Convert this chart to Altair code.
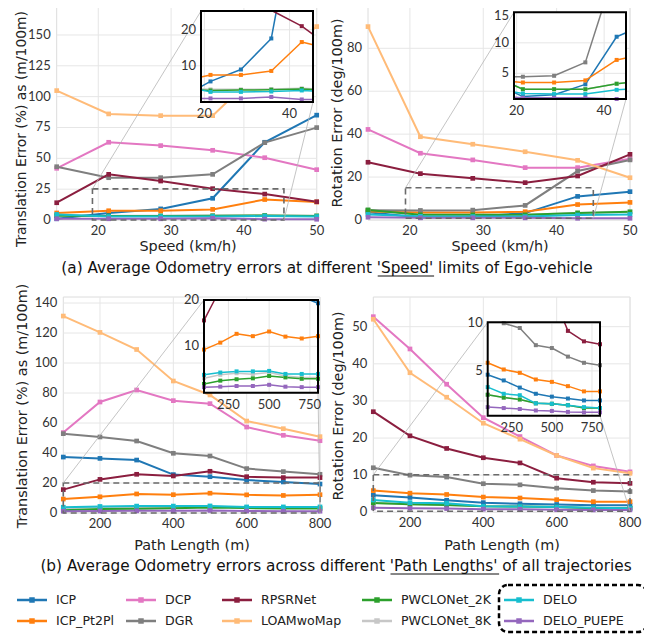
import altair as alt
import pandas as pd

# ---------------- data ----------------
METHODS = ["ICP", "ICP_Pt2Pl", "DCP", "DGR", "RPSRNet", "LOAMwoMap",
           "PWCLONet_2K", "PWCLONet_8K", "DELO", "DELO_PUEPE"]
COLORS = ["#1f77b4", "#ff7f0e", "#e377c2", "#7f7f7f", "#8b1e3f", "#ffbb78",
          "#2ca02c", "#c7c7c7", "#17becf", "#9467bd"]
DRAW_ORDER = ["PWCLONet_8K", "ICP", "ICP_Pt2Pl", "DCP", "DGR", "RPSRNet", "LOAMwoMap",
              "PWCLONet_2K", "DELO", "DELO_PUEPE"]

SPEED = [14.29, 21.43, 28.57, 35.71, 42.86, 50.0]
PATH = [100, 200, 300, 400, 500, 600, 700, 800]

speed_trans = {
    "ICP":         [1.0, 5.7, 9.0, 17.6, 63.0, 85.0],
    "ICP_Pt2Pl":   [5.7, 7.5, 7.5, 8.6, 16.6, 14.6],
    "DCP":         [41.9, 63.0, 60.3, 56.5, 50.5, 40.8],
    "DGR":         [43.2, 34.3, 34.3, 37.0, 62.7, 74.9],
    "RPSRNet":     [14.0, 37.0, 31.6, 25.4, 21.0, 14.8],
    "LOAMwoMap":   [104.9, 86.0, 84.6, 84.6, 125.0, 156.8],
    "PWCLONet_2K": [3.5, 3.2, 3.3, 3.4, 3.6, 3.3],
    "PWCLONet_8K": [3.8, 3.5, 3.5, 3.6, 3.8, 3.5],
    "DELO":        [4.5, 2.8, 2.8, 2.9, 3.2, 2.8],
    "DELO_PUEPE":  [1.0, 1.0, 1.0, 1.4, 0.7, 0.6],
}
speed_rot = {
    "ICP":         [3.6, 1.2, 1.5, 3.2, 11.0, 13.2],
    "ICP_Pt2Pl":   [4.0, 3.5, 3.5, 3.85, 7.2, 8.2],
    "DCP":         [42.2, 31.1, 28.0, 24.4, 24.4, 28.5],
    "DGR":         [4.5, 4.45, 4.6, 6.8, 22.8, 28.0],
    "RPSRNet":     [26.9, 21.6, 19.4, 17.4, 20.5, 30.6],
    "LOAMwoMap":   [90.1, 38.8, 35.3, 31.8, 27.8, 19.7],
    "PWCLONet_2K": [4.7, 2.4, 2.4, 2.4, 3.3, 3.8],
    "PWCLONet_8K": [4.6, 2.4, 2.4, 2.4, 3.3, 3.8],
    "DELO":        [2.6, 1.7, 1.6, 1.6, 2.3, 2.6],
    "DELO_PUEPE":  [1.3, 1.0, 1.0, 1.0, 0.8, 0.8],
}
path_trans = {
    "ICP":         [37.3, 36.4, 35.3, 25.6, 24.2, 22.0, 20.7, 19.3],
    "ICP_Pt2Pl":   [9.3, 10.8, 12.7, 12.2, 13.2, 12.1, 11.7, 12.2],
    "DCP":         [53.6, 74.0, 82.0, 74.9, 72.9, 57.3, 51.8, 48.2],
    "DGR":         [52.9, 50.7, 48.0, 39.8, 38.0, 29.6, 27.6, 25.8],
    "RPSRNet":     [15.6, 22.4, 25.8, 24.7, 27.8, 24.2, 23.6, 23.6],
    "LOAMwoMap":   [131.3, 120.4, 109.0, 88.0, 78.7, 61.3, 56.2, 50.9],
    "PWCLONet_2K": [1.9, 2.6, 2.9, 3.1, 3.6, 3.3, 3.0, 3.0],
    "PWCLONet_8K": [3.1, 3.85, 4.2, 4.0, 4.35, 3.6, 3.3, 3.3],
    "DELO":        [3.85, 4.35, 4.6, 4.6, 4.7, 4.05, 4.05, 4.05],
    "DELO_PUEPE":  [1.2, 1.3, 1.45, 1.45, 1.7, 1.3, 1.2, 1.2],
}
path_rot = {
    "ICP":         [4.6, 4.0, 3.25, 2.6, 2.3, 2.1, 1.9, 1.9],
    "ICP_Pt2Pl":   [5.85, 5.15, 4.8, 4.1, 3.85, 3.4, 2.85, 2.85],
    "DCP":         [52.7, 44.0, 34.5, 25.5, 20.4, 15.3, 12.5, 10.9],
    "DGR":         [12.0, 10.0, 9.5, 7.7, 7.4, 6.5, 5.85, 5.6],
    "RPSRNet":     [27.1, 20.6, 17.2, 14.7, 13.3, 9.2, 8.1, 7.8],
    "LOAMwoMap":   [52.0, 37.6, 31.0, 24.0, 19.7, 15.3, 11.9, 10.5],
    "PWCLONet_2K": [2.5, 2.2, 2.0, 1.6, 1.55, 1.4, 1.1, 1.1],
    "PWCLONet_8K": [2.5, 2.2, 2.0, 1.6, 1.55, 1.4, 1.1, 1.1],
    "DELO":        [3.3, 2.6, 2.45, 1.6, 1.55, 1.4, 1.2, 1.1],
    "DELO_PUEPE":  [1.2, 1.1, 1.0, 0.85, 0.8, 0.7, 0.65, 0.65],
}

SPEED_TICKS = [20, 30, 40, 50]
PATH_TICKS = [200, 400, 600, 800]

CAP_A = ["(a) Average Odometry errors at different ", "'Speed'", " limits of Ego-vehicle"]
CAP_B = ["(b) Average Odometry errors across different ", "'Path Lengths'", " of all trajectories"]

# ---------------- layout / style ----------------
FONT = "Lato"
TFONT = "DejaVu Sans"
OFF = 8
GRID = "#e6e6e6"
FRAME = "#dcdcdc"
LAB = "#333333"
W_ALL, H_ALL = 636, 627

# DejaVu Sans advance widths (em/1000), used to place the caption underlines
DJV = {" ": 318, "(": 390, ")": 390, "'": 275, "-": 361, "a": 613, "b": 635, "c": 550,
       "d": 635, "e": 615, "f": 352, "g": 635, "h": 634, "i": 278, "j": 278, "k": 579,
       "l": 278, "m": 974, "n": 634, "o": 612, "p": 635, "r": 411, "s": 521, "t": 392,
       "u": 634, "v": 592, "y": 592, "A": 684, "E": 632, "L": 557, "O": 787, "P": 603,
       "S": 635}


def twidth(s, size):
    return sum(DJV.get(c, 600) for c in s) / 1000.0 * size


def P(v):
    return v - OFF


def sc(dom, a, b):
    return alt.Scale(domain=dom, range=[P(a), P(b)], nice=False, zero=False)


def one():
    return pd.DataFrame({"k": [0]})


def clip_seg(x0, y0, x1, y1, xmin, xmax, ymin, ymax):
    dx, dy = x1 - x0, y1 - y0
    u0, u1 = 0.0, 1.0
    for p, q in ((-dx, x0 - xmin), (dx, xmax - x0), (-dy, y0 - ymin), (dy, ymax - y0)):
        if p == 0:
            if q < 0:
                return None
        else:
            t = q / p
            if p < 0:
                u0 = max(u0, t)
            else:
                u1 = min(u1, t)
    if u0 > u1:
        return None
    return (x0 + u0 * dx, y0 + u0 * dy, x0 + u1 * dx, y0 + u1 * dy, u0, u1)


PANELS = [
    dict(data=speed_trans, xs=SPEED, xdom=[14.29, 50], ydom=[0, 174.3],
         rect=(56.7, 316.7, 5, 220), xticks=SPEED_TICKS, yticks=[0, 25, 50, 75, 100, 125, 150],
         ytitle="Translation Error (%) as (m/100m)", ytpos=(22, 129), ytsize=13.9,
         xtitle="Speed (km/h)", xtpos=(188, 247),
         ixdom=[19.2, 45.5], iydom=[0, 25.2], irect=(201, 313, 11, 102),
         ixticks=[20, 40], iyticks=[10, 20]),
    dict(data=speed_rot, xs=SPEED, xdom=[14.29, 50], ydom=[0, 99.7],
         rect=(368, 630, 6, 220), xticks=SPEED_TICKS, yticks=[0, 20, 40, 60, 80],
         ytitle="Rotation Error (deg/100m)", ytpos=(338, 113), ytsize=14.4,
         xtitle="Speed (km/h)", xtpos=(500, 247),
         ixdom=[19.4, 45.0], iydom=[0.8, 15], irect=(514, 626, 12.3, 99),
         ixticks=[20, 40], iyticks=[5, 10, 15]),
    dict(data=path_trans, xs=PATH, xdom=[100, 800], ydom=[0, 144],
         rect=(63.3, 320, 297, 513), xticks=PATH_TICKS, yticks=[0, 20, 40, 60, 80, 100, 120, 140],
         ytitle="Translation Error (%) as (m/100m)", ytpos=(23, 406), ytsize=14.4,
         xtitle="Path Length (m)", xtpos=(192, 546),
         ixdom=[100, 800], iydom=[0, 20], irect=(204, 318, 300, 392.7),
         ixticks=[250, 500, 750], iyticks=[10, 20]),
    dict(data=path_rot, xs=PATH, xdom=[100, 800], ydom=[0, 58],
         rect=(373.3, 630, 297, 512.3), xticks=PATH_TICKS, yticks=[0, 10, 20, 30, 40, 50],
         ytitle="Rotation Error (deg/100m)", ytpos=(339, 406), ytsize=14.4,
         xtitle="Path Length (m)", xtpos=(502, 546),
         ixdom=[100, 800], iydom=[0.3, 10.1], irect=(487.7, 600, 322.3, 415.7),
         ixticks=[250, 500, 750], iyticks=[5, 10]),
]

CSCALE = alt.Scale(domain=METHODS, range=COLORS)


def panel_layers(p):
    L = []
    x0, x1, y0, y1 = p["rect"]
    xs = sc(p["xdom"], x0, x1)
    ys = sc(p["ydom"], y1, y0)
    L.append(alt.Chart(one()).mark_rect(fill="white", stroke=FRAME, strokeWidth=1).encode(
        x=alt.value(P(x0)), x2=alt.value(P(x1)), y=alt.value(P(y0)), y2=alt.value(P(y1))))
    L.append(alt.Chart(pd.DataFrame({"v": p["xticks"]})).mark_rule(color=GRID, strokeWidth=1).encode(
        x=alt.X("v:Q", scale=xs, axis=None), y=alt.value(P(y0)), y2=alt.value(P(y1))))
    L.append(alt.Chart(pd.DataFrame({"v": p["yticks"]})).mark_rule(color=GRID, strokeWidth=1).encode(
        y=alt.Y("v:Q", scale=ys, axis=None), x=alt.value(P(x0)), x2=alt.value(P(x1))))
    L.append(alt.Chart(pd.DataFrame({"v": p["xticks"], "t": [str(t) for t in p["xticks"]]}))
             .mark_text(font=FONT, fontSize=13, color=LAB, baseline="middle", align="center").encode(
        x=alt.X("v:Q", scale=xs, axis=None), y=alt.value(P(y1 + 11)), text="t:N"))
    L.append(alt.Chart(pd.DataFrame({"v": p["yticks"], "t": [str(t) for t in p["yticks"]]}))
             .mark_text(font=FONT, fontSize=13, color=LAB, baseline="middle", align="right").encode(
        y=alt.Y("v:Q", scale=ys, axis=None), x=alt.value(P(x0 - 6)), text="t:N"))
    L.append(alt.Chart(pd.DataFrame({"t": [p["ytitle"]]})).mark_text(
        font=TFONT, fontSize=p["ytsize"], color="#222", angle=270, align="center",
        baseline="middle").encode(
        x=alt.value(P(p["ytpos"][0])), y=alt.value(P(p["ytpos"][1])), text="t:N"))
    L.append(alt.Chart(pd.DataFrame({"t": [p["xtitle"]]})).mark_text(
        font=TFONT, fontSize=14.4, color="#222", align="center", baseline="middle").encode(
        x=alt.value(P(p["xtpos"][0])), y=alt.value(P(p["xtpos"][1])), text="t:N"))

    rows = []
    for m in DRAW_ORDER:
        for xv, yv in zip(p["xs"], p["data"][m]):
            rows.append({"m": m, "x": xv, "y": yv})
    df = pd.DataFrame(rows)
    L.append(alt.Chart(df).mark_line(strokeWidth=2).encode(
        x=alt.X("x:Q", scale=xs, axis=None), y=alt.Y("y:Q", scale=ys, axis=None),
        color=alt.Color("m:N", scale=CSCALE, legend=None), detail="m:N"))
    L.append(alt.Chart(df).mark_square(size=22, opacity=1).encode(
        x=alt.X("x:Q", scale=xs, axis=None), y=alt.Y("y:Q", scale=ys, axis=None),
        color=alt.Color("m:N", scale=CSCALE, legend=None)))

    ixd, iyd = p["ixdom"], p["iydom"]
    L.append(alt.Chart(pd.DataFrame({"a": [ixd[0]], "b": [ixd[1]], "c": [iyd[0]], "d": [iyd[1]]}))
             .mark_rect(fillOpacity=0, stroke="#6a6a6a", strokeWidth=1.6, strokeDash=[6, 4]).encode(
        x=alt.X("a:Q", scale=xs, axis=None), x2="b:Q",
        y=alt.Y("c:Q", scale=ys, axis=None), y2="d:Q"))
    ix0, ix1, iy0, iy1 = p["irect"]
    L.append(alt.Chart(pd.DataFrame({"a": [ixd[0]], "c": [iyd[1]]})).mark_rule(
        color="#b5b5b5", strokeWidth=0.8).encode(
        x=alt.X("a:Q", scale=xs, axis=None), y=alt.Y("c:Q", scale=ys, axis=None),
        x2=alt.value(P(ix0)), y2=alt.value(P(iy0))))
    L.append(alt.Chart(pd.DataFrame({"a": [ixd[1]], "c": [iyd[0]]})).mark_rule(
        color="#b5b5b5", strokeWidth=0.8).encode(
        x=alt.X("a:Q", scale=xs, axis=None), y=alt.Y("c:Q", scale=ys, axis=None),
        x2=alt.value(P(ix1)), y2=alt.value(P(iy1))))

    ixs = sc(ixd, ix0, ix1)
    iys = sc(iyd, iy1, iy0)
    L.append(alt.Chart(one()).mark_rect(fill="white").encode(
        x=alt.value(P(ix0)), x2=alt.value(P(ix1)), y=alt.value(P(iy0)), y2=alt.value(P(iy1))))
    L.append(alt.Chart(pd.DataFrame({"v": p["ixticks"]})).mark_rule(color=GRID, strokeWidth=1).encode(
        x=alt.X("v:Q", scale=ixs, axis=None), y=alt.value(P(iy0)), y2=alt.value(P(iy1))))
    L.append(alt.Chart(pd.DataFrame({"v": p["iyticks"]})).mark_rule(color=GRID, strokeWidth=1).encode(
        y=alt.Y("v:Q", scale=iys, axis=None), x=alt.value(P(ix0)), x2=alt.value(P(ix1))))
    seg_rows, pt_rows = [], []
    sid = 0
    for m in DRAW_ORDER:
        xv, yv = p["xs"], p["data"][m]
        run_open = False
        for i in range(len(xv) - 1):
            c = clip_seg(xv[i], yv[i], xv[i + 1], yv[i + 1], ixd[0], ixd[1], iyd[0], iyd[1])
            if c is None:
                run_open = False
                continue
            if not (run_open and c[4] == 0.0):
                sid += 1
                seg_rows.append({"m": m, "s": sid, "x": c[0], "y": c[1]})
            seg_rows.append({"m": m, "s": sid, "x": c[2], "y": c[3]})
            run_open = c[5] == 1.0
        for a, b in zip(xv, yv):
            if ixd[0] <= a <= ixd[1] and iyd[0] <= b <= iyd[1]:
                pt_rows.append({"m": m, "x": a, "y": b})
    sdf = pd.DataFrame(seg_rows)
    sdf["o"] = range(len(sdf))
    L.append(alt.Chart(sdf).mark_line(strokeWidth=1.5, strokeCap="round", strokeJoin="round").encode(
        x=alt.X("x:Q", scale=ixs, axis=None), y=alt.Y("y:Q", scale=iys, axis=None),
        color=alt.Color("m:N", scale=CSCALE, legend=None), detail="s:N", order="o:Q"))
    L.append(alt.Chart(pd.DataFrame(pt_rows)).mark_square(size=16, opacity=1).encode(
        x=alt.X("x:Q", scale=ixs, axis=None), y=alt.Y("y:Q", scale=iys, axis=None),
        color=alt.Color("m:N", scale=CSCALE, legend=None)))
    L.append(alt.Chart(one()).mark_rect(fillOpacity=0, stroke="black", strokeWidth=2).encode(
        x=alt.value(P(ix0)), x2=alt.value(P(ix1)), y=alt.value(P(iy0)), y2=alt.value(P(iy1))))
    L.append(alt.Chart(pd.DataFrame({"v": p["ixticks"], "t": [str(t) for t in p["ixticks"]]}))
             .mark_text(font=FONT, fontSize=13, color=LAB, baseline="middle", align="center").encode(
        x=alt.X("v:Q", scale=ixs, axis=None), y=alt.value(P(iy1 + 12)), text="t:N"))
    # inset y labels; a label touching the page top is nudged down so it stays visible
    lo, hi = [], []
    for t in p["iyticks"]:
        py = iy1 - (t - iyd[0]) / (iyd[1] - iyd[0]) * (iy1 - iy0)
        (hi if py < 16 else lo).append(t)
    for grp, dy in ((lo, 0), (hi, 16 - iy0)):
        if not grp:
            continue
        L.append(alt.Chart(pd.DataFrame({"v": grp, "t": [str(t) for t in grp]}))
                 .mark_text(font=FONT, fontSize=13, color=LAB, baseline="middle", align="right",
                            dy=max(dy, 0)).encode(
            y=alt.Y("v:Q", scale=iys, axis=None), x=alt.value(P(ix0 - 5)), text="t:N"))
    return L


layers = []
for p in PANELS:
    layers += panel_layers(p)

# captions with underlined keyword
CAP_SIZE = 15.3
for parts, cx, cy in ((CAP_A, 327, 268), (CAP_B, 336, 566)):
    full = "".join(parts)
    layers.append(alt.Chart(pd.DataFrame({"t": [full]})).mark_text(
        font=TFONT, fontSize=CAP_SIZE, color="#111", align="center", baseline="middle").encode(
        x=alt.value(P(cx)), y=alt.value(P(cy)), text="t:N"))
    start = cx - twidth(full, CAP_SIZE) / 2 + twidth(parts[0], CAP_SIZE)
    end = start + twidth(parts[1], CAP_SIZE)
    layers.append(alt.Chart(one()).mark_rule(color="#111", strokeWidth=1).encode(
        x=alt.value(P(start)), x2=alt.value(P(end)), y=alt.value(P(cy + 8))))

# legend (layout positions)
LEG_COL_X = [17, 126, 222, 362, 504]
LEG_ROW_Y = [600, 621]
PX = alt.Scale(domain=[0, W_ALL], range=[0, W_ALL], nice=False, zero=False)
PY = alt.Scale(domain=[0, H_ALL], range=[0, H_ALL], nice=False, zero=False)
leg = []
for i, m in enumerate(METHODS):
    col, row = i // 2, i % 2
    lx = LEG_COL_X[col]
    leg.append({"m": m, "a": P(lx), "b": P(lx + 30), "c": P(lx + 15), "t": P(lx + 39),
                "y": P(LEG_ROW_Y[row])})
ldf = pd.DataFrame(leg)
layers.append(alt.Chart(ldf).mark_rule(strokeWidth=2.5).encode(
    x=alt.X("a:Q", scale=PX, axis=None), x2="b:Q", y=alt.Y("y:Q", scale=PY, axis=None),
    color=alt.Color("m:N", scale=CSCALE, legend=None)))
layers.append(alt.Chart(ldf).mark_square(size=30, opacity=1).encode(
    x=alt.X("c:Q", scale=PX, axis=None), y=alt.Y("y:Q", scale=PY, axis=None),
    color=alt.Color("m:N", scale=CSCALE, legend=None)))
layers.append(alt.Chart(ldf).mark_text(font=TFONT, fontSize=12.6, color="#222", align="left",
                                       baseline="middle").encode(
    x=alt.X("t:Q", scale=PX, axis=None), y=alt.Y("y:Q", scale=PY, axis=None), text="m:N"))
layers.append(alt.Chart(one()).mark_rect(fillOpacity=0, stroke="black", strokeWidth=2.5,
                                         strokeDash=[5, 3], cornerRadius=9).encode(
    x=alt.value(P(499)), x2=alt.value(P(647)), y=alt.value(P(585)), y2=alt.value(P(632))))

chart = alt.layer(*layers).resolve_scale(x="independent", y="independent").properties(
    width=W_ALL, height=H_ALL, autosize=alt.AutoSizeParams(type="none"), padding=0,
    background="white").configure_view(stroke=None)

chart.save("out.html", embed_options={"renderer": "svg", "actions": False})
